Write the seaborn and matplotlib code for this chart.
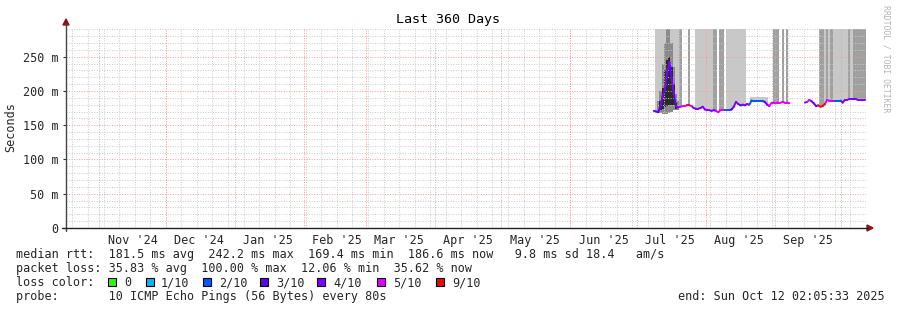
import numpy as np
import pandas as pd
import matplotlib
matplotlib.use("Agg")
import matplotlib.pyplot as plt
import matplotlib.dates as mdates
from matplotlib.patches import Rectangle, Polygon
from matplotlib.lines import Line2D
import seaborn as sns

N = np.nan

# ---------------- data ----------------
period_start = "2024-10-17 02:05:33"
period_end = "2025-10-12 02:05:33"
first_day = "2025-07-08 02:05:33"   # first daily sample (Jul 8 .. Oct 11)

median_ms = [171, 170, 169, 178, 194, 202, 228, 242, 218, 196,
             177, 176, 177, 178, 178, 179, 179, 178, 175, 174,
             174, 175, 177, 173, 172, 172, 171, 172, 171, 169,
             172, 172, 172, 172, 172, 173, 177, 184, 181, 179,
             180, 179, 181, 180, 186, 185, 185, 185, 185, 185,
             184, 180, 178, 183, 183, 182, 183, 183, 184, 183,
             183, 182, N, N, N, N, N, N, 183, 184,
             187, 185, 182, 178, 179, 177, 178, 181, 187, 186,
             186, 186, 186, 186, 186, 183, 187, 187, 188, 188,
             188, 188, 187, 187, 187, 187]

loss_of_10 = [3, 3, 3, 3, 4, 3, 4, 4, 3, 4,
              3, 4, 4, 5, 5, 5, 9, 5, 4, 4,
              4, 4, 3, 4, 4, 4, 4, 4, 3, 5,
              5, 5, 5, 2, 2, 3, 3, 4, 4, 3,
              4, 4, 4, 4, 2, 2, 2, 2, 2, 2,
              3, 3, 4, 5, 5, 5, 5, 5, 5, 5,
              5, 5, 10, 10, 10, 10, 10, 10, 4, 4,
              5, 4, 3, 3, 3, 9, 9, 9, 5, 5,
              5, 5, 2, 2, 2, 3, 4, 4, 4, 4,
              4, 4, 4, 4, 4, 4]

# highest ping per day (outer smoke), 300 = beyond graph top
smoke_outer_ms = [N, 300, 300, 300, 300, 300, 300, 300, 300, 300,
                  300, 300, 300, N, N, N, N, N, N, 300,
                  300, 300, 300, 300, 300, 300, 300, N, N, N,
                  N, N, N, 300, 300, 300, 300, 300, 300, 300,
                  300, 300, N, N, 191, 191, 191, 191, 191, 191,
                  191, 191, N, N, N, N, N, N, N, N,
                  N, N, N, N, N, N, N, N, N, N,
                  N, N, N, N, N, 300, 300, 300, 300, 300,
                  300, 300, 300, 300, 300, 300, 300, 300, 300, 300,
                  300, 300, 300, 300, 300, 300]

# second highest ping per day (inner smoke)
smoke_inner_ms = [N, N, N, N, N, N, 300, 300, N, N,
                  N, N, 300, N, N, N, 300, N, N, N,
                  N, N, N, N, N, N, N, 300, 300, N,
                  300, 300, N, N, N, N, N, N, N, N,
                  N, N, N, N, N, N, N, N, N, N,
                  N, N, N, N, 300, 300, 300, N, 300, N,
                  300, N, N, N, N, N, N, N, N, N,
                  N, N, N, N, N, 300, 300, N, 300, N,
                  300, N, N, N, N, N, N, N, 300, N,
                  300, 300, 300, 300, 300, 300]

# dense smoke around the July latency spike (Jul 10 .. Jul 19)
spike_first_day = "2025-07-10 02:05:33"
spike_mid_lo = [168, 168, 167, 167, 167, 168, 170, 172, 172, 172]
spike_mid_hi = [185, 200, 240, 270, 300, 290, 270, 235, 195, 185]
spike_core_lo = [N, 172, 174, 177, 178, 180, 180, 180, 174, N]
spike_core_hi = [N, 185, 205, 230, 245, 250, 235, 210, 182, N]

loss_labels = ["0", "1/10", "2/10", "3/10", "4/10", "5/10", "9/10"]
loss_levels = [0, 1, 2, 3, 4, 5, 9]
loss_colors = ["#26ff00", "#00b8ff", "#0059ff", "#5e00ff", "#7e00ff", "#dd00ff", "#ff0000"]

month_labels = ["Nov '24", "Dec '24", "Jan '25", "Feb '25", "Mar '25", "Apr '25",
                "May '25", "Jun '25", "Jul '25", "Aug '25", "Sep '25"]
y_ticks = [0, 50, 100, 150, 200, 250]
y_tick_labels = ["0", "50 m", "100 m", "150 m", "200 m", "250 m"]

title = "Last 360 Days"
stat_lines = [
    "median rtt:  181.5 ms avg  242.2 ms max  169.4 ms min  186.6 ms now   9.8 ms sd 18.4   am/s",
    "packet loss: 35.83 % avg  100.00 % max  12.06 % min  35.62 % now",
    "loss color:",
    "probe:       10 ICMP Echo Pings (56 Bytes) every 80s",
]
end_text = "end: Sun Oct 12 02:05:33 2025"

# ---------------- figure ----------------
sns.set_theme(style="white")
plt.rcParams["font.family"] = ["DejaVu Sans Mono", "DejaVu Sans"]
MONO = 8.43

W, H = 897, 310
fig = plt.figure(figsize=(W / 100, H / 100), dpi=100)
fig.patch.set_facecolor("white")
ax = fig.add_axes([66 / W, (H - 228) / H, 800 / W, (228 - 28.9) / H])
ax.set_facecolor("white")

t0 = mdates.date2num(pd.Timestamp(period_start))
t1 = mdates.date2num(pd.Timestamp(period_end))
ax.set_xlim(t0, t1)
ax.set_ylim(0, 290.6)

day_start = mdates.date2num(pd.date_range(first_day, periods=len(median_ms), freq="D"))
day_mid = day_start + 0.5
med = np.array(median_ms, dtype=float)

# smoke
outer = np.array(smoke_outer_ms, dtype=float)
m = ~np.isnan(outer)
ax.bar(day_start[m], outer[m] - med[m], bottom=med[m], width=1.0, align="edge",
       color="#c8c8c8", linewidth=0, antialiased=False, zorder=1)
inner = np.array(smoke_inner_ms, dtype=float)
m = ~np.isnan(inner)
ax.bar(day_start[m], inner[m] - med[m], bottom=med[m], width=1.0, align="edge",
       color="#a0a0a0", linewidth=0, antialiased=False, zorder=2)

sp_start = mdates.date2num(pd.date_range(spike_first_day, periods=len(spike_mid_lo), freq="D"))
lo = np.array(spike_mid_lo, float); hi = np.array(spike_mid_hi, float)
ax.bar(sp_start, hi - lo, bottom=lo, width=1.0, align="edge", color="#8a8a8a",
       linewidth=0, antialiased=False, zorder=3)
lo = np.array(spike_core_lo, float); hi = np.array(spike_core_hi, float)
m = ~np.isnan(lo)
ax.bar(sp_start[m], hi[m] - lo[m], bottom=lo[m], width=1.0, align="edge", color="#2a2a2a",
       linewidth=0, antialiased=False, zorder=4)

# grid (drawn over smoke, under the median line)
dots = (0, (1, 1.6))
GL = 0.7
for v in range(10, 291, 10):
    if v % 50:
        ax.axhline(v, color="#cacaca", lw=GL, ls=dots, zorder=5)
for v in range(50, 291, 50):
    ax.axhline(v, color="#eba0a0", lw=GL, ls=dots, zorder=6)
for d in pd.date_range("2024-10-20", period_end, freq="7D"):
    ax.axvline(mdates.date2num(d), color="#cacaca", lw=GL, ls=dots, zorder=5)
month_starts = pd.date_range("2024-11-01", period_end, freq="MS")
for d in month_starts:
    ax.axvline(mdates.date2num(d), color="#eba0a0", lw=GL, ls=dots, zorder=6)

# median line coloured by loss
rows = []
for i in range(1, len(median_ms)):
    if np.isnan(med[i - 1]) or np.isnan(med[i]):
        continue
    lab = loss_labels[loss_levels.index(loss_of_10[i])]
    rows.append(dict(seg=i, x=day_mid[i - 1], ms=med[i - 1], loss=lab))
    rows.append(dict(seg=i, x=day_mid[i], ms=med[i], loss=lab))
seg_df = pd.DataFrame(rows)
palette = dict(zip(loss_labels, loss_colors))
sns.lineplot(data=seg_df, x="x", y="ms", hue="loss", units="seg", estimator=None,
             palette=palette, legend=False, ax=ax, linewidth=1.4, sort=False, zorder=8)
ax.set_xlabel("")
ax.set_ylabel("")

# axes / ticks
for s in ax.spines.values():
    s.set_visible(False)
ax.set_yticks(y_ticks)
ax.set_yticklabels(y_tick_labels, fontsize=MONO, family="DejaVu Sans Mono")
ax.tick_params(axis="y", length=2.5, width=0.8, color="#333333", pad=3, left=True)
mid_month = mdates.date2num(month_starts[:len(month_labels)] + pd.Timedelta(days=15))
ax.set_xticks(mid_month)
ax.set_xticklabels(month_labels, fontsize=MONO, family="DejaVu Sans Mono")
ax.tick_params(axis="x", length=0, pad=4)
ax.grid(False)


def fx(x):
    return x / W


def fy(y):
    return 1 - y / H


fig.add_artist(Line2D([fx(66), fx(66)], [fy(231), fy(24)], color="#444444", lw=1.0))
fig.add_artist(Line2D([fx(62), fx(868)], [fy(228), fy(228)], color="#222222", lw=1.0))
fig.add_artist(Polygon([[fx(63), fy(25)], [fx(69), fy(25)], [fx(66), fy(19)]],
                       closed=True, color="#8b1414", transform=fig.transFigure))
fig.add_artist(Polygon([[fx(867), fy(225)], [fx(867), fy(231)], [fx(873), fy(228)]],
                       closed=True, color="#8b1414", transform=fig.transFigure))

# texts
fig.text(fx(448), fy(23), title, ha="center", va="baseline", fontsize=9.6,
         family="DejaVu Sans Mono", color="black")
fig.text(fx(11), fy(127), "Seconds", rotation=90, ha="center", va="center",
         fontsize=MONO, family="DejaVu Sans Mono")
fig.text(fx(886), fy(59), "RRDTOOL / TOBI OETIKER", rotation=270, ha="center", va="center",
         fontsize=5.9, family="DejaVu Sans Mono", color="#b4b4b4")

baselines = [258, 272, 286, 300]
for s, yb in zip(stat_lines, baselines):
    fig.text(fx(16), fy(yb), s, ha="left", va="baseline", fontsize=MONO,
             family="DejaVu Sans Mono")
fig.text(fx(678), fy(300), end_text, ha="left", va="baseline", fontsize=MONO,
         family="DejaVu Sans Mono")

sq_x = [108, 145.5, 202.5, 260, 316.5, 376.5, 435.5]
lab_x = [124, 161, 219, 276, 333, 393, 452]
for sx, lx, lab, col in zip(sq_x, lab_x, loss_labels, loss_colors):
    fig.add_artist(Rectangle((fx(sx), fy(286)), 8 / W, 8 / H, transform=fig.transFigure,
                             facecolor=col, edgecolor="black", lw=0.8))
    fig.text(fx(lx), fy(286), lab, ha="left", va="baseline", fontsize=MONO,
             family="DejaVu Sans Mono")

fig.savefig("out.png", dpi=100, facecolor="white")
